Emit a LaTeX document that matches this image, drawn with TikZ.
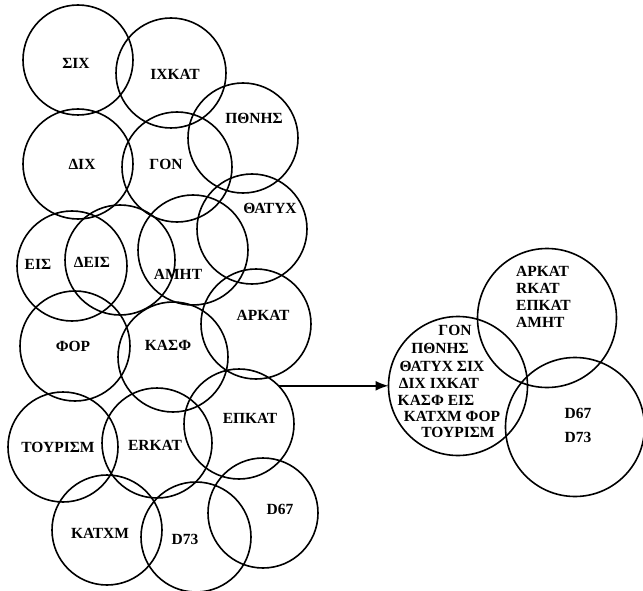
\documentclass[tikz,border=0pt]{standalone}
\usepackage{fontspec}
\setmainfont{Liberation Serif}
\usetikzlibrary{arrows.meta}
\tikzset{
  ring/.style={circle, draw, line width=1.6pt, minimum size=110pt, inner sep=0pt, outer sep=0pt},
  bigring/.style={ring, minimum size=139pt},
  lab/.style={font=\fontsize{15.5}{17}\selectfont\bfseries, inner sep=0pt},
  link/.style={line width=1.6pt, -{Latex[length=13pt,width=10pt]}}
}
\begin{document}
\begin{tikzpicture}[x=1pt,y=-1pt]
\useasboundingbox (0,0) rectangle (643,591);
% left group circles
\node[ring] (six)   at (78,60) {};
\node[ring] (ixkat) at (171,73) {};
\node[ring] (pthn)  at (243,138) {};
\node[ring] (dix)   at (78,164) {};
\node[ring] (gon)   at (177,167) {};
\node[ring] (thaty) at (252,229) {};
\node[ring] (eis)   at (72,266) {};
\node[ring] (deis)  at (120,260) {};
\node[ring] (amht)  at (193,250) {};
\node[ring] (arkat) at (256,324) {};
\node[ring] (phor)  at (75,346) {};
\node[ring] (kasph) at (173,357) {};
\node[ring] (epkat) at (239,424) {};
\node[ring] (tour)  at (63,447) {};
\node[ring] (erkat) at (157,443) {};
\node[ring] (d67)   at (263,513) {};
\node[ring] (katxm) at (107,530) {};
\node[ring] (d73)   at (196,537) {};
% left group labels
\node[lab] (tsix)   at (76,63)  {ΣΙΧ};
\node[lab] (tixkat) at (175,74) {ΙΧΚΑΤ};
\node[lab] (tpthn)  at (254,118) {ΠΘΝΗΣ};
\node[lab] (tdix)   at (82,164) {ΔΙΧ};
\node[lab] (tgon)   at (166,164) {ΓΟΝ};
\node[lab] (tthaty) at (270,208) {ΘΑΤΥΧ};
\node[lab] (teis)   at (38,264) {ΕΙΣ};
\node[lab] (tdeis)  at (92,262) {ΔΕΙΣ};
\node[lab] (tamht)  at (178,274) {ΑΜΗΤ};
\node[lab] (tarkat) at (263,315) {ΑΡΚΑΤ};
\node[lab] (tphor)  at (73,346) {ΦΟΡ};
\node[lab] (tkasph) at (168,345) {ΚΑΣΦ};
\node[lab] (tepkat) at (250,418) {ΕΠΚΑΤ};
\node[lab] (ttour)  at (58,447) {ΤΟΥΡΙΣΜ};
\node[lab] (terkat) at (155,445) {ERKAT};
\node[lab] (tkatxm) at (100,533) {ΚΑΤΧΜ};
\node[lab] (td73)   at (185,539) {D73};
\node[lab] (td67)   at (280,509) {D67};
% right group
\node[bigring] (merged) at (458,386) {};
\node[bigring] (top)    at (547,318) {};
\node[bigring] (bot)    at (575,427) {};
\node[lab] (m1) at (455,330) {ΓΟΝ};
\node[lab] (m2) at (440,348) {ΠΘΝΗΣ};
\node[lab] (m3) at (442,366) {ΘΑΤΥΧ ΣΙΧ};
\node[lab] (m4) at (439,383) {ΔΙΧ ΙΧΚΑΤ};
\node[lab] (m5) at (436,400) {ΚΑΣΦ ΕΙΣ};
\node[lab] (m6) at (452,416) {ΚΑΤΧΜ ΦΟΡ};
\node[lab] (m7) at (458,432) {ΤΟΥΡΙΣΜ};
\node[lab, align=left, anchor=north west, font=\fontsize{15.5}{17}\selectfont\bfseries] (tl) at (516,266) {ΑΡΚΑΤ\\RKAT\\ΕΠΚΑΤ\\ΑΜΗΤ};
\node[lab, align=center, font=\fontsize{15.5}{24}\selectfont\bfseries] (bl) at (578,425) {D67\\D73};
% arrow
\draw[link] (epkat.44) -- (epkat.44 -| merged.west);
\end{tikzpicture}
\end{document}
